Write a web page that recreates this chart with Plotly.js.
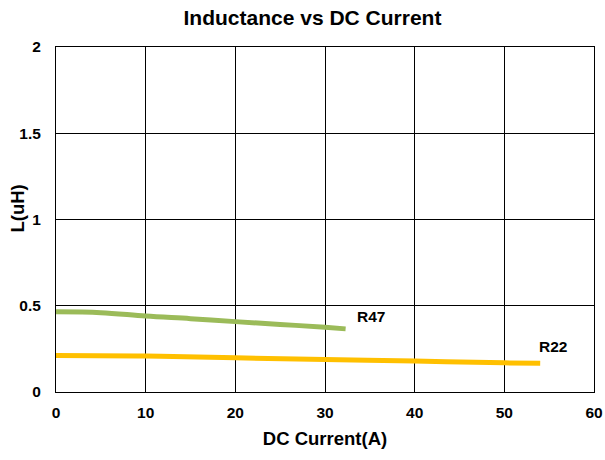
<!DOCTYPE html>
<html>
<head>
<meta charset="utf-8">
<script src="https://cdn.plot.ly/plotly-3.0.1.min.js"></script>
<style>html,body{margin:0;padding:0;background:#fff;}#chart{width:605px;height:460px;}</style>
</head>
<body>
<div id="chart"></div>
<script>
const r47Current = [0, 5, 10, 15, 20, 25, 30, 32.3];
const r47L = [0.465, 0.46, 0.44, 0.425, 0.408, 0.392, 0.375, 0.366];
const r22Current = [0, 10, 20, 30, 40, 50, 54];
const r22L = [0.212, 0.209, 0.198, 0.188, 0.179, 0.169, 0.166];
const seriesNames = ["R47", "R22"];
const xTicks = [0, 10, 20, 30, 40, 50, 60];
const yTicks = [0, 0.5, 1, 1.5, 2];
const yTickText = ["0", "0.5", "1", "1.5", "2"];

const font = "Liberation Sans, Arial, sans-serif";
const traces = [
  {x: r47Current, y: r47L, name: seriesNames[0], mode: "lines", line: {color: "#9BBB59", width: 5, shape: "spline"}},
  {x: r22Current, y: r22L, name: seriesNames[1], mode: "lines", line: {color: "#FFC000", width: 5, shape: "spline"}}
];
const layout = {
  width: 605, height: 460,
  margin: {l: 56, r: 11, t: 47, b: 68},
  paper_bgcolor: "#fff", plot_bgcolor: "#fff",
  showlegend: false,
  font: {family: font, color: "#000"},
  title: {text: "<b>Inductance vs DC Current</b>", font: {size: 21, family: font, color: "#000"}, x: 0.5165, xanchor: "center", y: 0.961, yanchor: "middle"},
  xaxis: {
    range: [0, 60], tickvals: xTicks, ticktext: xTicks.map(v => "<b>" + v + "</b>"),
    showgrid: true, gridcolor: "#000", gridwidth: 1,
    showline: true, linecolor: "#000", linewidth: 1, mirror: true,
    zeroline: false, ticks: "outside", ticklen: 6, tickcolor: "rgba(0,0,0,0)",
    tickfont: {size: 15.5, family: font, color: "#000"},
    title: {text: "<b>DC Current(A)</b>", font: {size: 18.5, family: font, color: "#000"}, standoff: 12}
  },
  yaxis: {
    range: [0, 2], tickvals: yTicks, ticktext: yTickText.map(v => "<b>" + v + "</b>"),
    showgrid: true, gridcolor: "#000", gridwidth: 1,
    showline: true, linecolor: "#000", linewidth: 1, mirror: true,
    zeroline: false, ticks: "outside", ticklen: 11, tickcolor: "rgba(0,0,0,0)",
    tickfont: {size: 15.5, family: font, color: "#000"}
  },
  annotations: [
    {xref: "paper", yref: "paper", x: 0, y: 0.5, xanchor: "center", yanchor: "middle", xshift: -39, yshift: 11, textangle: -90, text: "<b>L(uH)</b>", showarrow: false, font: {size: 18.5, family: font, color: "#000"}},
    {x: r47Current[r47Current.length - 1], y: r47L[r47L.length - 1], xref: "x", yref: "y", text: "<b>" + seriesNames[0] + "</b>", showarrow: false, xanchor: "left", yanchor: "middle", xshift: 9, yshift: 12, font: {size: 15.5, family: font, color: "#000"}},
    {x: r22Current[r22Current.length - 1], y: r22L[r22L.length - 1], xref: "x", yref: "y", text: "<b>" + seriesNames[1] + "</b>", showarrow: false, xanchor: "left", yanchor: "middle", xshift: -3, yshift: 16.5, font: {size: 15.5, family: font, color: "#000"}}
  ]
};
Plotly.newPlot("chart", traces, layout, {displayModeBar: false, staticPlot: true});
</script>
</body>
</html>
